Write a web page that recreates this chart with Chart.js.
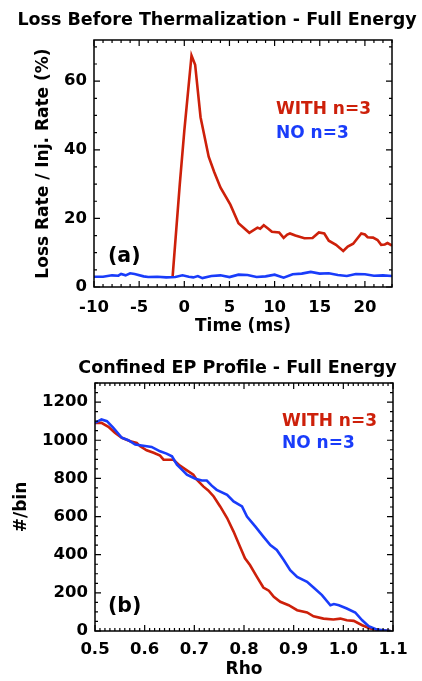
<!DOCTYPE html>
<html>
<head>
<meta charset="utf-8">
<script src="https://cdn.jsdelivr.net/npm/chart.js@4/dist/chart.umd.min.js"></script>
<style>
  html, body { margin: 0; padding: 0; background: #fff; }
  canvas { position: absolute; left: 0; }
  #lossChart { top: 0; }
  #profileChart { top: 340px; }
</style>
</head>
<body>
<canvas id="lossChart" width="422" height="340"></canvas>
<canvas id="profileChart" width="422" height="341"></canvas>
<script>
// (a) loss rate vs time
const timeWith = [-1.3, -0.5, 0, 0.8, 1.2, 1.8, 2.7, 3.3, 4.0, 5.1, 6.0, 7.2, 8.1, 8.4, 8.8, 9.3, 9.7, 10.5, 11.0, 11.4, 11.7, 12.3, 13.3, 14.2, 14.9, 15.5, 16.0, 16.8, 17.6, 18.1, 18.7, 19.6, 20.0, 20.3, 20.9, 21.4, 21.8, 22.2, 22.5, 23.0];
const lossWith = [2.8, 30, 45.5, 67.5, 64.8, 49.5, 38, 33.6, 29, 24, 18.6, 15.8, 17.3, 17, 18, 17, 16.1, 15.9, 14.3, 15.3, 15.6, 15, 14.2, 14.3, 15.9, 15.6, 13.5, 12.3, 10.5, 11.8, 12.6, 15.6, 15.3, 14.5, 14.4, 13.7, 12.3, 12.4, 12.8, 12.1];
const timeNo = [-10, -9, -8, -7.3, -7, -6.5, -6, -5.5, -4.5, -4, -3, -2, -1, -0.2, 0.5, 1, 1.5, 2, 3, 4, 5, 6, 7, 8, 9, 10, 11, 12, 13, 14, 15, 16, 17, 18, 19, 20, 21, 22, 23];
const lossNo = [3.0, 3.0, 3.4, 3.3, 3.8, 3.4, 4.0, 3.8, 3.1, 2.9, 3.0, 2.8, 2.9, 3.4, 3.0, 2.8, 3.2, 2.6, 3.2, 3.4, 2.9, 3.6, 3.5, 2.9, 3.1, 3.6, 2.7, 3.7, 3.9, 4.4, 3.9, 4.0, 3.5, 3.2, 3.8, 3.7, 3.3, 3.4, 3.2];
const timeTicks = [-10, -5, 0, 5, 10, 15, 20];
const lossTicks = [0, 20, 40, 60];

// (b) confined profile vs rho
const rhoWith = [0.500, 0.513, 0.527, 0.540, 0.554, 0.571, 0.584, 0.591, 0.604, 0.618, 0.631, 0.638, 0.651, 0.658, 0.671, 0.685, 0.698, 0.705, 0.718, 0.728, 0.739, 0.752, 0.766, 0.779, 0.792, 0.802, 0.812, 0.826, 0.839, 0.850, 0.860, 0.873, 0.890, 0.907, 0.927, 0.940, 0.960, 0.980, 0.994, 1.007, 1.021, 1.038, 1.054, 1.075, 1.095];
const countWith = [1091, 1091, 1070, 1039, 1013, 995, 986, 968, 947, 934, 919, 898, 898, 898, 867, 842, 819, 793, 758, 737, 705, 653, 592, 521, 442, 381, 346, 284, 228, 211, 179, 153, 135, 109, 97, 77, 65, 60, 65, 56, 53, 30, 13, 4, 0];
const rhoNo = [0.500, 0.513, 0.524, 0.537, 0.554, 0.567, 0.581, 0.594, 0.614, 0.631, 0.644, 0.655, 0.665, 0.675, 0.685, 0.702, 0.715, 0.725, 0.735, 0.745, 0.766, 0.779, 0.796, 0.806, 0.823, 0.839, 0.853, 0.866, 0.880, 0.893, 0.907, 0.920, 0.927, 0.940, 0.957, 0.974, 0.981, 0.991, 1.007, 1.024, 1.038, 1.051, 1.068, 1.095];
const countNo = [1091, 1109, 1100, 1065, 1013, 1000, 977, 972, 965, 942, 930, 916, 872, 846, 819, 798, 789, 789, 762, 740, 714, 679, 653, 600, 547, 495, 451, 425, 372, 319, 284, 267, 258, 228, 188, 135, 141, 135, 118, 97, 56, 25, 7, 0];
const rhoTicks = [0.5, 0.6, 0.7, 0.8, 0.9, 1.0, 1.1];
const countTicks = [0, 200, 400, 600, 800, 1000, 1200];

const RED = 'rgb(205, 32, 10)';
const BLUE = 'rgb(25, 60, 250)';
const FONT = 'DejaVu Sans';

function pts(xs, ys) {
    return xs.map((x, i) => ({ x: x, y: ys[i] }));
}

// IDL-style box with inward ticks plus the free text
function decor(cfg) {
    return {
        id: 'decor',
        afterDraw(chart) {
            const ctx = chart.ctx;
            const a = chart.chartArea;
            const xs = chart.scales.x, ys = chart.scales.y;
            ctx.save();
            ctx.strokeStyle = '#000';
            ctx.lineWidth = 1.5;
            ctx.strokeRect(a.left, a.top, a.right - a.left, a.bottom - a.top);
            ctx.lineWidth = 1.2;
            ctx.beginPath();
            const nx = Math.round((xs.max - xs.min) / cfg.xMinor);
            for (let i = 0; i <= nx; i++) {
                const v = xs.min + i * cfg.xMinor;
                const p = xs.getPixelForValue(v);
                const r = v / cfg.xMajor;
                const len = Math.abs(r - Math.round(r)) < 1e-6 ? 6 : 3;
                ctx.moveTo(p, a.bottom); ctx.lineTo(p, a.bottom - len);
                ctx.moveTo(p, a.top); ctx.lineTo(p, a.top + len);
            }
            const ny = Math.round((ys.max - ys.min) / cfg.yMinor);
            for (let i = 0; i <= ny; i++) {
                const v = ys.min + i * cfg.yMinor;
                const p = ys.getPixelForValue(v);
                const r = v / cfg.yMajor;
                const len = Math.abs(r - Math.round(r)) < 1e-6 ? 6 : 3;
                ctx.moveTo(a.left, p); ctx.lineTo(a.left + len, p);
                ctx.moveTo(a.right, p); ctx.lineTo(a.right - len, p);
            }
            ctx.stroke();

            ctx.textBaseline = 'alphabetic';
            cfg.texts.forEach(t => {
                ctx.font = 'bold ' + t.size + 'px "' + FONT + '"';
                ctx.fillStyle = t.color || '#000';
                ctx.textAlign = t.align || 'left';
                ctx.fillText(t.text, t.x, t.y);
            });
            ctx.restore();
        }
    };
}

function baseOptions(o) {
    return {
        responsive: false,
        animation: false,
        layout: { padding: o.padding },
        plugins: { legend: { display: false }, tooltip: { enabled: false }, title: { display: false } },
        elements: { point: { radius: 0 }, line: { tension: 0, borderWidth: 2.6 } },
        scales: {
            x: {
                type: 'linear', min: o.xMin, max: o.xMax,
                grid: { display: false, drawTicks: false }, border: { display: false },
                afterBuildTicks: s => { s.ticks = o.xTicks.map(v => ({ value: v })); },
                afterFit: s => { s.height = o.xHeight; },
                ticks: {
                    color: '#000', padding: o.xPad, maxRotation: 0, autoSkip: false,
                    font: { family: FONT, weight: 'bold', size: 16.5 },
                    callback: o.xFmt
                },
                title: {
                    display: true, text: o.xTitle, color: '#000',
                    padding: { top: 0, bottom: o.xTitlePad },
                    font: { family: FONT, weight: 'bold', size: 17 }
                }
            },
            y: {
                type: 'linear', min: o.yMin, max: o.yMax,
                grid: { display: false, drawTicks: false }, border: { display: false },
                afterBuildTicks: s => { s.ticks = o.yTicks.map(v => ({ value: v })); },
                afterFit: s => { s.width = o.yWidth; },
                ticks: {
                    color: '#000', padding: 7, autoSkip: false,
                    font: { family: FONT, weight: 'bold', size: 16.5 },
                    callback: v => String(v)
                },
                title: {
                    display: true, text: o.yTitle, color: '#000',
                    padding: { top: o.yTitlePad, bottom: 0 },
                    font: { family: FONT, weight: 'bold', size: 17 }
                }
            }
        }
    };
}

new Chart(document.getElementById('lossChart').getContext('2d'), {
    type: 'line',
    data: {
        datasets: [{
            label: 'WITH n=3',
            data: pts(timeWith, lossWith),
            borderColor: RED,
            order: 1
        }, {
            label: 'NO n=3',
            data: pts(timeNo, lossNo),
            borderColor: BLUE,
            order: 0
        }]
    },
    options: baseOptions({
        padding: { top: 40, left: 0, right: 30, bottom: 0 },
        xMin: -10, xMax: 23, xTicks: timeTicks, xHeight: 53, xPad: 11,
        xFmt: v => String(v), xTitle: 'Time (ms)', xTitlePad: 3,
        yMin: 0, yMax: 72, yTicks: lossTicks, yWidth: 94,
        yTitle: 'Loss Rate / Inj. Rate (%)', yTitlePad: 33
    }),
    plugins: [decor({
        xMinor: 1, xMajor: 5, yMinor: 5, yMajor: 20,
        texts: [
            { text: 'Loss Before Thermalization - Full Energy', x: 217, y: 25, size: 17.5, align: 'center' },
            { text: 'WITH n=3', x: 276, y: 114, size: 17, color: RED },
            { text: 'NO n=3', x: 276, y: 138, size: 17, color: BLUE },
            { text: '(a)', x: 108, y: 262, size: 20.5 }
        ]
    })]
});

new Chart(document.getElementById('profileChart').getContext('2d'), {
    type: 'line',
    data: {
        datasets: [{
            label: 'WITH n=3',
            data: pts(rhoWith, countWith),
            borderColor: RED,
            order: 1
        }, {
            label: 'NO n=3',
            data: pts(rhoNo, countNo),
            borderColor: BLUE,
            order: 0
        }]
    },
    options: baseOptions({
        padding: { top: 43, left: 0, right: 29, bottom: 0 },
        xMin: 0.5, xMax: 1.1, xTicks: rhoTicks, xHeight: 50, xPad: 8.5,
        xFmt: v => v.toFixed(1), xTitle: 'Rho', xTitlePad: 1,
        yMin: 0, yMax: 1300, yTicks: countTicks, yWidth: 95,
        yTitle: '#/bin', yTitlePad: 11
    }),
    plugins: [decor({
        xMinor: 0.01, xMajor: 0.1, yMinor: 50, yMajor: 200,
        texts: [
            { text: 'Confined EP Profile - Full Energy', x: 237.5, y: 32.7, size: 17.5, align: 'center' },
            { text: 'WITH n=3', x: 282, y: 85.7, size: 17, color: RED },
            { text: 'NO n=3', x: 282, y: 108.3, size: 17, color: BLUE },
            { text: '(b)', x: 108, y: 271.7, size: 20.5 }
        ]
    })]
});
</script>
</body>
</html>
